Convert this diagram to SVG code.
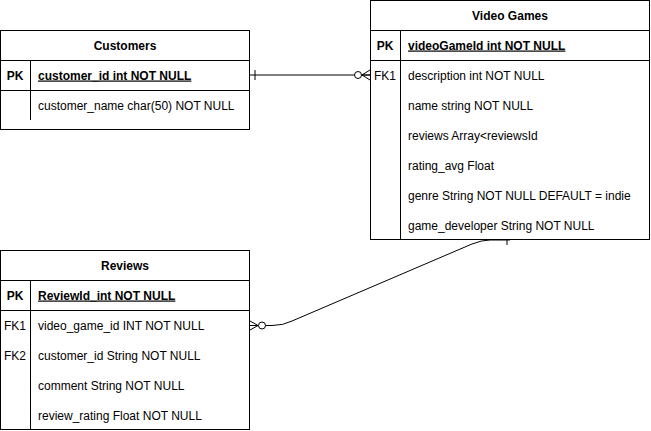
<svg xmlns="http://www.w3.org/2000/svg" width="651" height="431" viewBox="0 0 651 431">
<style>
.box{fill:#fff;stroke:#000;stroke-width:1}
.ln{stroke:#000;stroke-width:1;fill:none}
text{font-family:"Liberation Sans",Arial,sans-serif;font-size:12px;fill:#000}
.h{font-weight:bold;text-anchor:middle}
.k{font-weight:bold}
.pk{font-weight:bold;text-decoration:underline}
.c{text-anchor:middle}
</style>
<rect width="651" height="431" fill="#fff"/>
<g id="connectors">
<path class="ln" d="M250 75 L370 75"/>
<path class="ln" d="M255 70 L255 80"/>
<path class="ln" d="M362 75 L370 70 M362 75 L370 75 M362 75 L370 80"/>
<circle cx="358" cy="75" r="3.5" fill="#fff" stroke="#000"/>
<path class="ln" d="M510 240 L490 240 Q482 240 472 244 L292 321 Q283 325.5 272 325.5 L250 325.5"/>
<path class="ln" d="M507 235 L507 245"/>
<path class="ln" d="M258 325.5 L250 321 M258 325.5 L250 325.5 M258 325.5 L250 330"/>
<circle cx="262" cy="325.5" r="3.5" fill="#fff" stroke="#000"/>
</g>
<g id="customers">
<rect class="box" x="0.5" y="30.5" width="249" height="99"/>
<path class="ln" d="M0.5 60.5 H249.5 M0.5 90.5 H249.5 M30.5 60.5 V120"/>
<text class="h" x="125" y="49.5">Customers</text>
<text class="k c" x="15" y="79.5">PK</text>
<text class="pk" x="38" y="79.5">customer_id int NOT NULL</text>
<text x="38" y="109.5">customer_name char(50) NOT NULL</text>
</g>
<g id="videogames">
<rect class="box" x="370.5" y="0.5" width="279" height="239"/>
<path class="ln" d="M370.5 30.5 H649.5 M370.5 60.5 H649.5 M400.5 30.5 V239.5"/>
<text class="h" x="510" y="19.5">Video Games</text>
<text class="k c" x="385" y="49.5">PK</text>
<text class="pk" x="408" y="49.5">videoGameId int NOT NULL</text>
<text class="c" x="385" y="79.5">FK1</text>
<text x="408" y="79.5">description int NOT NULL</text>
<text x="408" y="109.5">name string NOT NULL</text>
<text x="408" y="139.5">reviews Array&lt;reviewsId</text>
<text x="408" y="169.5">rating_avg Float</text>
<text x="408" y="199.5">genre String NOT NULL DEFAULT = indie</text>
<text x="408" y="229.5">game_developer String NOT NULL</text>
</g>
<g id="reviews">
<rect class="box" x="0.5" y="250.5" width="249" height="179"/>
<path class="ln" d="M0.5 280.5 H249.5 M0.5 310.5 H249.5 M30.5 280.5 V429.5"/>
<text class="h" x="125" y="269.5">Reviews</text>
<text class="k c" x="15" y="299.5">PK</text>
<text class="pk" x="38" y="299.5">ReviewId_int NOT NULL</text>
<text class="c" x="15" y="329.5">FK1</text>
<text x="38" y="329.5">video_game_id INT NOT NULL</text>
<text class="c" x="15" y="359.5">FK2</text>
<text x="38" y="359.5">customer_id String NOT NULL</text>
<text x="38" y="389.5">comment String NOT NULL</text>
<text x="38" y="419.5">review_rating Float NOT NULL</text>
</g>
</svg>
